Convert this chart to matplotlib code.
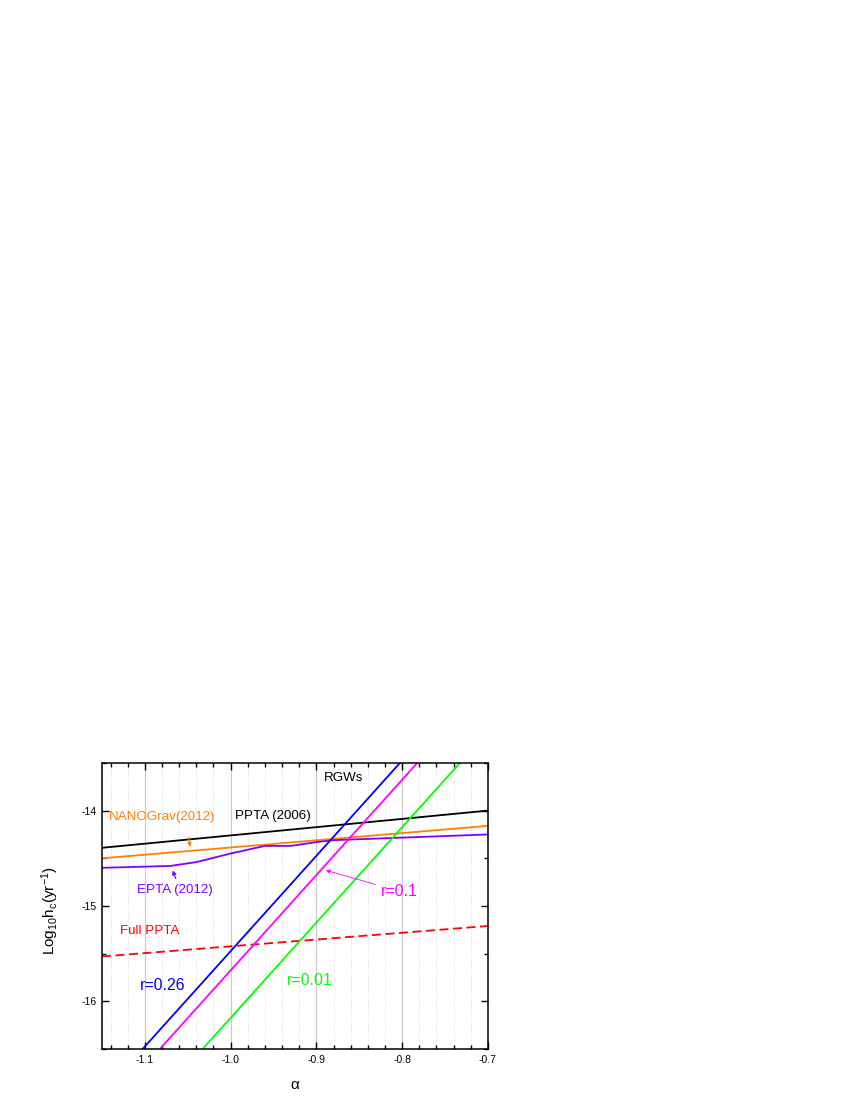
import numpy as np
import matplotlib
matplotlib.use('Agg')
import matplotlib.pyplot as plt
from matplotlib.ticker import MultipleLocator

plt.rcParams['font.family'] = ['Liberation Sans', 'DejaVu Sans']
plt.rcParams['mathtext.fontset'] = 'custom'
plt.rcParams['mathtext.rm'] = 'Liberation Sans'
plt.rcParams['mathtext.it'] = 'Liberation Sans:italic'

# data
alpha_ends = [-1.15, -0.70]
ppta_2006 = [-14.39, -14.00]
nanograv_2012 = [-14.50, -14.16]
full_ppta = [-15.53, -15.21]

epta_alpha = [-1.15, -1.07, -1.04, -1.00, -0.96, -0.93, -0.90, -0.88, -0.70]
epta_h = [-14.60, -14.58, -14.54, -14.45, -14.37, -14.37, -14.33, -14.31, -14.25]

# RGW curves (r = 0.26, 0.1, 0.01): alpha where they leave the bottom and top of the frame
rgw_h = [-16.5, -13.5]
r026_alpha = [-1.1026, -0.8026]
r01_alpha = [-1.0824, -0.7824]
r001_alpha = [-1.0326, -0.7326]

fig = plt.figure(figsize=(8.5, 11), dpi=100)
ax = fig.add_axes([0.12, 0.0464, 0.454, 0.26])

# grid: solid at majors, dotted at minors (x only)
ax.set_xlim(-1.15, -0.70)
ax.set_ylim(-16.5, -13.5)
ax.xaxis.set_major_locator(MultipleLocator(0.1))
ax.xaxis.set_minor_locator(MultipleLocator(0.02))
ax.yaxis.set_major_locator(MultipleLocator(1.0))
ax.yaxis.set_minor_locator(MultipleLocator(0.5))
ax.grid(True, which='major', axis='x', color='#c8c8c8', lw=0.8, zorder=0)
ax.grid(True, which='minor', axis='x', color='#d4d4d4', lw=0.6, ls=':', zorder=0)

lw = 1.3
ax.plot(alpha_ends, ppta_2006, color='black', lw=lw)
ax.plot(alpha_ends, nanograv_2012, color='#ff8000', lw=lw)
ax.plot(epta_alpha, epta_h, color='#8000ff', lw=lw)
ax.plot(alpha_ends, full_ppta, color='#ff0000', lw=lw, dashes=(5, 2.5))
ax.plot(r026_alpha, rgw_h, color='#0000ff', lw=lw)
ax.plot(r01_alpha, rgw_h, color='#ff00ff', lw=lw)
ax.plot(r001_alpha, rgw_h, color='#00ff00', lw=lw)

# labels
fs = 9.6
ax.text(-0.868, -13.655, 'RGWs', color='black', fontsize=fs, ha='center', va='center')
ax.text(-0.951, -14.06, 'PPTA (2006)', color='black', fontsize=fs, ha='center', va='center')
ax.text(-1.080, -14.07, 'NANOGrav(2012)', color='#ff8000', fontsize=fs, ha='center', va='center')
ax.text(-1.065, -14.83, 'EPTA (2012)', color='#8000ff', fontsize=fs, ha='center', va='center')
ax.text(-1.094, -15.26, 'Full PPTA', color='#ff0000', fontsize=fs, ha='center', va='center')
ax.text(-1.079, -15.83, 'r=0.26', color='#0000ff', fontsize=11.5, ha='center', va='center')
ax.text(-0.9075, -15.78, 'r=0.01', color='#00ff00', fontsize=11.5, ha='center', va='center')
ax.text(-0.803, -14.85, 'r=0.1', color='#ff00ff', fontsize=11.5, ha='center', va='center')

# arrows pointing at the curves
ax.annotate('', xy=(-1.0466, -14.41), xytext=(-1.0494, -14.25),
            arrowprops=dict(arrowstyle='-|>', color='#ff8000', lw=0.8, mutation_scale=6))
ax.annotate('', xy=(-1.0687, -14.60), xytext=(-1.0629, -14.74),
            arrowprops=dict(arrowstyle='-|>', color='#8000ff', lw=0.8, mutation_scale=6))
ax.annotate('', xy=(-0.892, -14.618), xytext=(-0.828, -14.782),
            arrowprops=dict(arrowstyle='-|>', color='#ff00ff', lw=0.6, mutation_scale=6))

# ticks on all four sides, pointing in
ax.tick_params(which='both', direction='in', top=True, right=True, labelsize=7.5, width=1.0)
ax.tick_params(which='major', length=5, pad=4)
ax.tick_params(which='minor', length=3)
ax.set_xticks([-1.1, -1.0, -0.9, -0.8, -0.7])
ax.set_xticklabels(['-1.1', '-1.0', '-0.9', '-0.8', '-0.7'])
ax.set_yticks([-14, -15, -16])
ax.set_yticklabels(['-14', '-15', '-16'])
for s in ax.spines.values():
    s.set_linewidth(1.1)

ax.set_xlabel('\u03b1', fontsize=11, labelpad=10)
ax.set_ylabel(r'Log$_{\mathrm{10}}$h$_{\mathrm{c}}$(yr$^{\mathrm{-1}}$)', fontsize=11)
ax.yaxis.set_label_coords(-0.105, 0.483)

fig.savefig('out.png', dpi=100)
